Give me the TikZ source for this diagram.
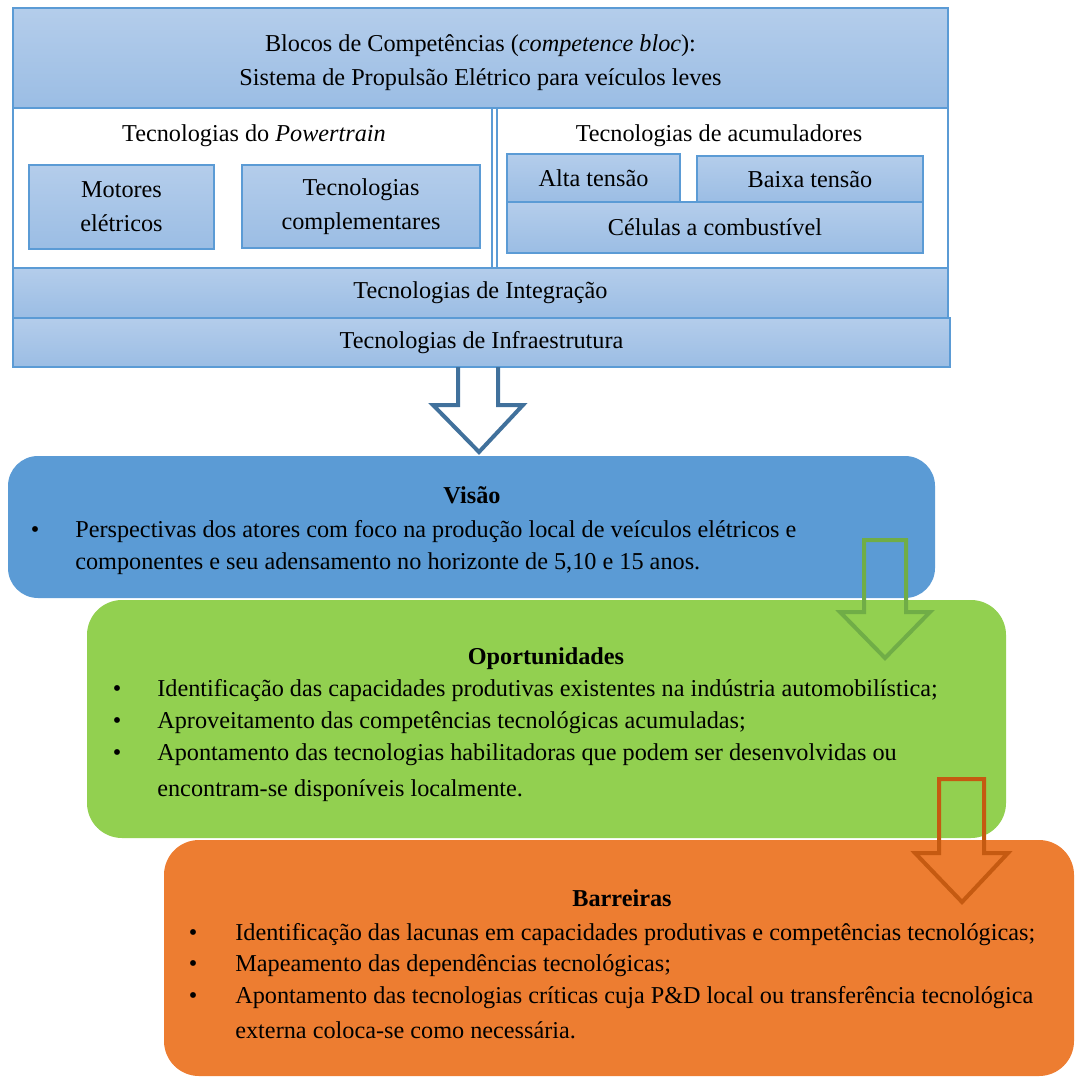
\documentclass[tikz,border=0pt]{standalone}
\usepackage{fontspec}
\setmainfont{Liberation Serif}
\usetikzlibrary{fit}
\definecolor{azulborda}{RGB}{91,155,213}
\definecolor{azulclaro}{RGB}{180,205,235}
\definecolor{azulescuro}{RGB}{155,189,228}
\definecolor{azulvisao}{RGB}{91,155,213}
\definecolor{verdeop}{RGB}{146,208,80}
\definecolor{laranjabar}{RGB}{237,125,49}
\definecolor{setaazul}{RGB}{65,113,156}
\definecolor{setaverde}{RGB}{112,173,71}
\definecolor{setalaranja}{RGB}{197,90,17}
\begin{document}
\begin{tikzpicture}[
    x=0.02cm, y=-0.02cm,
    every node/.style={font=\fontsize{13.8}{19.2}\selectfont},
    bloco/.style={draw=azulborda, line width=0.7pt, top color=azulclaro, bottom color=azulescuro, inner sep=0pt},
    quadro/.style={draw=azulborda, line width=0.7pt, fill=white, inner sep=0pt},
    texto/.style={align=center, inner sep=0pt},
    painel/.style={rounded corners=0.6cm, inner sep=0pt},
    rotulo/.style={anchor=base, inner sep=0pt},
    titulo/.style={anchor=base, inner sep=0pt, font=\fontsize{13.8}{19.2}\selectfont\bfseries},
    linha/.style={anchor=base west, inner sep=0pt},
    marca/.style={anchor=base, inner sep=0pt},
    seta/.style={line width=0.08cm, line join=miter, miter limit=10}
  ]
  \useasboundingbox (0,0) rectangle (1075,1077);

  % Blocos de competencias
  \node[bloco, fit={(13,8) (948,108)}] (cab) {};
  \node[texto] (tcab) at ([yshift=-0.1cm]cab.center) {Blocos de Competências (\textit{competence bloc}):\\Sistema de Propulsão Elétrico para veículos leves};
  \node[quadro, fit={(13,108) (492,268)}] (pwt) {};
  \node[quadro, fit={(497,108) (948,268)}] (acum) {};
  \node[rotulo] (lpwt) at (254,142) {Tecnologias do \textit{Powertrain}};
  \node[rotulo] (lacum) at (719,142) {Tecnologias de acumuladores};
  \node[bloco, fit={(29,165) (214,249)}] (motores) {};
  \node[bloco, fit={(242,165) (480,248)}] (compl) {};
  \node[bloco, fit={(507,154) (680,202)}] (alta) {};
  \node[bloco, fit={(697,156) (923,202)}] (baixa) {};
  \node[bloco, fit={(507,202) (923,253)}] (celulas) {};
  \node[bloco, fit={(13,268) (948,318)}] (integ) {};
  \node[bloco, fit={(13,318) (950,367)}] (infra) {};
  \node[texto] (tmotores) at (motores) {Motores\\elétricos};
  \node[texto] (tcompl) at (compl) {Tecnologias\\complementares};
  \node[texto] (talta) at (alta) {Alta tensão};
  \node[texto] (tbaixa) at (baixa) {Baixa tensão};
  \node[texto] (tcelulas) at (celulas) {Células a combustível};
  \node[texto] (tinteg) at (integ) {Tecnologias de Integração};
  \node[texto] (tinfra) at (infra) {Tecnologias de Infraestrutura};

  \draw[seta, setaazul] (458,367) -- (458,405) -- (433,405) -- (479,452) -- (523,405) -- (498,405) -- (498,367);

  % Visao
  \node[painel, fill=azulvisao, fit={(8,456) (935,598)}] (visao) {};
  \node[titulo] (tvisao) at (472,503) {Visão};
  \node[marca] (bv1) at (35,537) {•};
  \node[linha] (v1a) at (75,537) {Perspectivas dos atores com foco na produção local de veículos elétricos e};
  \node[linha] (v1b) at (75,569) {componentes e seu adensamento no horizonte de 5,10 e 15 anos.};

  % Oportunidades
  \node[painel, fill=verdeop, rounded corners=0.7cm, fit={(87,600) (1006,838)}] (opor) {};
  \node[titulo] (topor) at (546,664) {Oportunidades};
  \node[marca] (bo1) at (117,696) {•};
  \node[marca] (bo2) at (117,728) {•};
  \node[marca] (bo3) at (117,760) {•};
  \node[linha] (o1) at (157,696) {Identificação das capacidades produtivas existentes na indústria automobilística;};
  \node[linha] (o2) at (157,728) {Aproveitamento das competências tecnológicas acumuladas;};
  \node[linha] (o3a) at (157,760) {Apontamento das tecnologias habilitadoras que podem ser desenvolvidas ou};
  \node[linha] (o3b) at (157,796) {encontram-se disponíveis localmente.};

  \draw[seta, setaverde] (864,540) -- (864,612) -- (840,612) -- (885,658) -- (930,612) -- (906,612) -- (906,540) -- cycle;

  % Barreiras
  \node[painel, fill=laranjabar, rounded corners=0.7cm, fit={(164,840) (1074,1076)}] (barr) {};
  \node[titulo] (tbarr) at (622,906) {Barreiras};
  \node[marca] (bb1) at (193,940) {•};
  \node[marca] (bb2) at (193,971) {•};
  \node[marca] (bb3) at (193,1003) {•};
  \node[linha] (b1) at (235,940) {Identificação das lacunas em capacidades produtivas e competências tecnológicas;};
  \node[linha] (b2) at (235,971) {Mapeamento das dependências tecnológicas;};
  \node[linha] (b3a) at (235,1003) {Apontamento das tecnologias críticas cuja P\&D local ou transferência tecnológica};
  \node[linha] (b3b) at (235,1038) {externa coloca-se como necessária.};

  \draw[seta, setalaranja] (939,779) -- (939,853) -- (915,853) -- (962,902) -- (1008,853) -- (984,853) -- (984,779) -- cycle;
\end{tikzpicture}
\end{document}
